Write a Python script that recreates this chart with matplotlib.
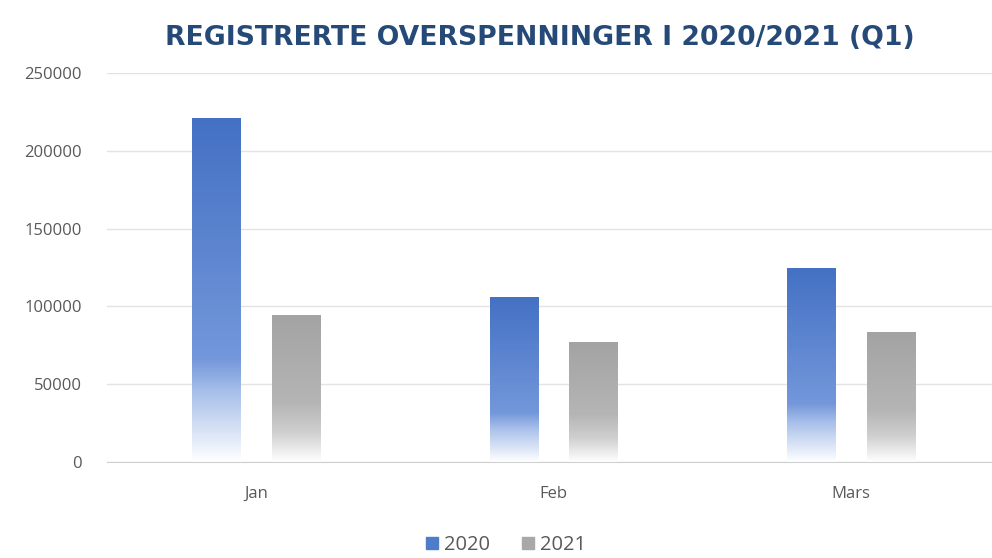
import numpy as np
import matplotlib.pyplot as plt
from matplotlib.colors import LinearSegmentedColormap
from matplotlib.patches import Patch

# Monthly counts for Q1
months = ["Jan", "Feb", "Mars"]
years = ["2020", "2021"]
counts_2020 = [221000, 106000, 124700]
counts_2021 = [94500, 77100, 83500]

plt.rcParams['font.family'] = ['Open Sans', 'DejaVu Sans']

fig = plt.figure(figsize=(9.92, 5.58), dpi=100)
ax = fig.add_axes([107 / 992, 96 / 558, 1 - 107 / 992, (462 - 73) / 558])

x = np.arange(len(months))
width = 0.162
offset = 0.134

# gradient colour maps: solid at the top, fading out to white near the base
blue = LinearSegmentedColormap.from_list(
    "blue", [(0, "#ffffff"), (0.2, "#a9c0ea"), (0.3, "#7397da"), (1, "#4471c4")])
grey = LinearSegmentedColormap.from_list(
    "grey", [(0, "#ffffff"), (0.2, "#cfcfcf"), (0.4, "#b5b5b5"), (1, "#a3a3a3")])


def gradient_bars(xs, values, cmap):
    bars = ax.bar(xs, values, width, color="none", edgecolor="none", zorder=2)
    grad = np.linspace(0, 1, 256).reshape(-1, 1)
    for b in bars:
        x0, y0 = b.get_x(), b.get_y()
        im = ax.imshow(grad, cmap=cmap, origin="lower", aspect="auto",
                       extent=[x0, x0 + b.get_width(), y0, y0 + b.get_height()],
                       zorder=2)
        im.set_clip_path(b)


gradient_bars(x - offset, counts_2020, blue)
gradient_bars(x + offset, counts_2021, grey)

ax.set_xlim(-0.5, 2.5 - 8 / 297.5)
ax.set_ylim(0, 250000)
ax.set_yticks(range(0, 250001, 50000))
ax.set_xticks(x)
ax.set_xticklabels(months)
ax.grid(axis="y", color="#e3e3e3", linewidth=1, zorder=0)
ax.set_axisbelow(True)
for s in ["top", "right", "left"]:
    ax.spines[s].set_visible(False)
ax.spines["bottom"].set_color("#d0d0d0")
ax.tick_params(axis="both", length=0, labelsize=12, colors="#595959")
ax.tick_params(axis="x", pad=17)
ax.tick_params(axis="y", pad=18)

fig.text(540 / 992, 1 - 38 / 558, "REGISTRERTE OVERSPENNINGER I 2020/2021 (Q1)",
         ha="center", va="center", fontsize=19.2, fontweight="bold", color="#264a78",
         family="DejaVu Sans")

handles = [Patch(color="#4f7bcb"), Patch(color="#a8a8a8")]
fig.legend(handles, years, loc="center", bbox_to_anchor=(506 / 992, 1 - 545 / 558),
           ncol=2, frameon=False, fontsize=14.5, handlelength=0.6, handleheight=0.6,
           handletextpad=0.3, columnspacing=1.6, labelcolor="#595959")

fig.savefig("out.png", dpi=100)
